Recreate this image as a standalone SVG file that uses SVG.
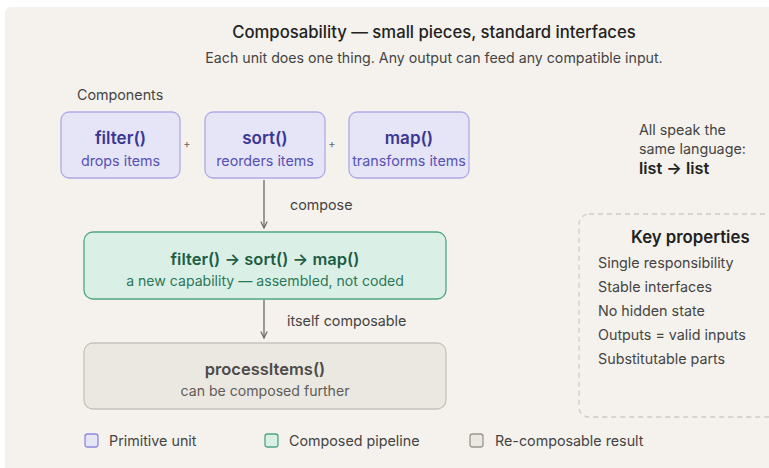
<svg xmlns="http://www.w3.org/2000/svg" width="769" height="468" viewBox="0 0 769 468">
<defs>
<marker id="arr" viewBox="0 0 10 10" refX="9" refY="5" markerWidth="8" markerHeight="8" markerUnits="userSpaceOnUse" orient="auto">
<path d="M1,1 L9,5 L1,9" fill="none" stroke="#6b6763" stroke-width="1.5"/>
</marker>
<style>
text{font-family:Inter,"Noto Sans","Liberation Sans",sans-serif;}
.title{font-size:16.7px;font-weight:500;fill:#222;text-anchor:middle;}
.sub{font-size:14.2px;fill:#444;text-anchor:middle;}
.lbl{font-size:14.3px;fill:#444;}
.prim{fill:#e6e4f7;stroke:#aeaae6;stroke-width:1.3;}
.pt{font-size:17px;font-weight:600;fill:#3b3794;text-anchor:middle;}
.ps{font-size:14.3px;fill:#5652b4;text-anchor:middle;}
.comp{fill:#daf0e6;stroke:#4fa583;stroke-width:1.3;}
.ct{font-size:16.5px;font-weight:600;fill:#1f5c44;text-anchor:middle;}
.cs{font-size:14.1px;fill:#2c7658;text-anchor:middle;}
.res{fill:#ebe8e1;stroke:#c6c2ba;stroke-width:1.3;}
.rt{font-size:16.5px;font-weight:600;fill:#4d4b48;text-anchor:middle;}
.rs{font-size:14.1px;fill:#5f5c58;text-anchor:middle;}
.conn{stroke:#6b6763;stroke-width:1.3;fill:none;}
.kp{font-size:14.3px;fill:#444;}
</style>
</defs>
<rect x="0" y="0" width="769" height="468" fill="#ffffff"/>
<rect x="5" y="7" width="770" height="470" rx="6" fill="#f5f2ed"/>
<text class="title" x="434" y="38">Composability — small pieces, standard interfaces</text>
<text class="sub" x="434" y="63">Each unit does one thing. Any output can feed any compatible input.</text>
<text class="lbl" x="77" y="100">Components</text>

<g id="filter">
<rect class="prim" x="61" y="112" width="119" height="66" rx="8"/>
<text class="pt" x="120.5" y="144">filter()</text>
<text class="ps" x="120.5" y="166">drops items</text>
</g>
<g id="sort">
<rect class="prim" x="205" y="112" width="120" height="66" rx="8"/>
<text class="pt" x="265" y="144">sort()</text>
<text class="ps" x="265" y="166">reorders items</text>
</g>
<g id="map">
<rect class="prim" x="349" y="112" width="120" height="66" rx="8"/>
<text class="pt" x="409" y="144">map()</text>
<text class="ps" x="409" y="166">transforms items</text>
</g>
<text x="187" y="148" text-anchor="middle" style="font-size:11px;fill:#666">+</text>
<text x="332" y="148" text-anchor="middle" style="font-size:11px;fill:#666">+</text>

<g id="pipeline">
<rect class="comp" x="84" y="232" width="362" height="67" rx="9"/>
<text class="ct" x="265" y="265">filter() → sort() → map()</text>
<text class="cs" x="265" y="286">a new capability — assembled, not coded</text>
</g>
<g id="processItems">
<rect class="res" x="84" y="343" width="362" height="66" rx="9"/>
<text class="rt" x="265" y="375">processItems()</text>
<text class="rs" x="265" y="396">can be composed further</text>
</g>

<g id="connectors">
<line class="conn" x1="264" y1="180" x2="264" y2="228" marker-end="url(#arr)"/>
<line class="conn" x1="264" y1="300" x2="264" y2="338" marker-end="url(#arr)"/>
</g>
<text class="lbl" x="290" y="210">compose</text>
<text class="lbl" x="287" y="326">itself composable</text>

<g id="language">
<text class="kp" x="639" y="135">All speak the</text>
<text class="kp" x="639" y="154">same language:</text>
<text x="639" y="174" style="font-size:16.3px;font-weight:600;fill:#222">list → list</text>
</g>

<g id="key-properties">
<rect x="579" y="214" width="210" height="203" rx="10" fill="none" stroke="#cfcbc4" stroke-width="1.3" stroke-dasharray="5 4"/>
<text x="631" y="243" style="font-size:16.8px;font-weight:600;fill:#222">Key properties</text>
<text class="kp" x="598" y="268">Single responsibility</text>
<text class="kp" x="598" y="292">Stable interfaces</text>
<text class="kp" x="598" y="316">No hidden state</text>
<text class="kp" x="598" y="340">Outputs = valid inputs</text>
<text class="kp" x="598" y="364">Substitutable parts</text>
</g>

<g id="legend">
<rect x="85" y="434" width="13" height="13" rx="2.5" fill="#e6e4f7" stroke="#8d89dc" stroke-width="1.3"/>
<text class="lbl" x="109" y="446">Primitive unit</text>
<rect x="265" y="434" width="13" height="13" rx="2.5" fill="#daf0e6" stroke="#4fa583" stroke-width="1.3"/>
<text class="lbl" x="289" y="446">Composed pipeline</text>
<rect x="470" y="434" width="13" height="13" rx="2.5" fill="#ebe8e1" stroke="#9a968f" stroke-width="1.3"/>
<text class="lbl" x="495" y="446">Re-composable result</text>
</g>
</svg>
